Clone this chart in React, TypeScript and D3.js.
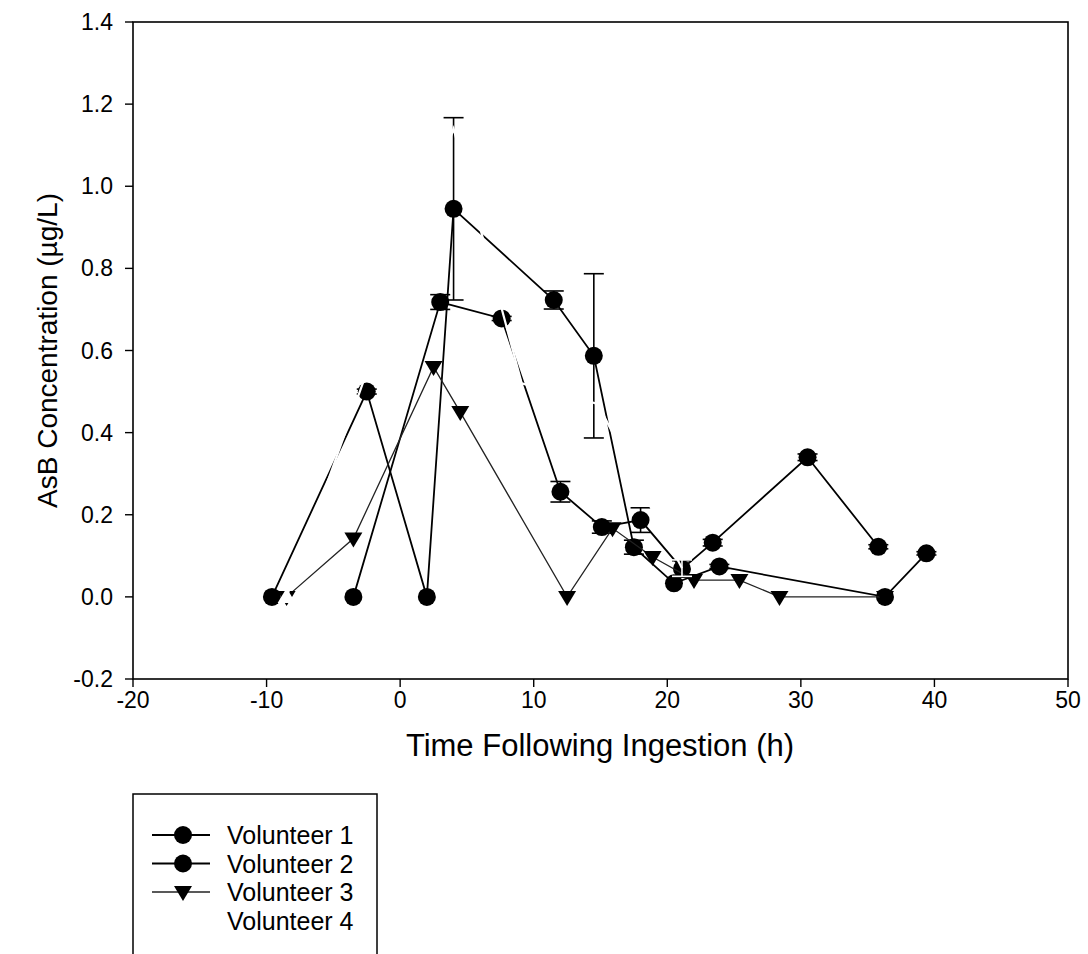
import React from "react";
import * as d3 from "d3";

// ---- data ----
const vol1Time = [-9.6, -2.5, 2.0, 4.0, 11.5, 14.5, 17.5, 20.5, 23.9, 36.3, 39.4];
const vol1Conc = [0, 0.5, 0, 0.945, 0.723, 0.587, 0.121, 0.033, 0.074, 0, 0.106];
const vol1Err = [0, 0.006, 0, 0.222, 0.022, 0.2, 0.017, 0, 0.005, 0, 0.004];

const vol2Time = [-3.5, 3.0, 7.6, 12.0, 15.1, 18.0, 21.1, 23.4, 30.5, 35.8];
const vol2Conc = [0, 0.718, 0.678, 0.256, 0.17, 0.187, 0.068, 0.132, 0.34, 0.122];
const vol2Err = [0, 0.018, 0.005, 0.025, 0.015, 0.03, 0.02, 0.008, 0.008, 0.005];

const vol3Time = [-8.5, -3.5, 2.5, 4.5, 12.5, 15.9, 18.9, 22.0, 25.4, 28.4, 36.3];
const vol3Conc = [0, 0.142, 0.56, 0.45, 0, 0.167, 0.097, 0.041, 0.041, 0, 0];
const vol3Err = [0, 0, 0, 0, 0, 0, 0, 0, 0, 0, 0];

const vol4Time = [-8.5, 4.0, 9.1, 14.8, 21.1];
const vol4Conc = [0, 1.14, 0.52, 0.47, 0.07];
const vol4Err = [0, 0, 0, 0, 0.02];

const xTicks = [-20, -10, 0, 10, 20, 30, 40, 50];
const yTicks = [-0.2, 0, 0.2, 0.4, 0.6, 0.8, 1.0, 1.2, 1.4];

const seriesNames = ["Volunteer 1", "Volunteer 2", "Volunteer 3", "Volunteer 4"];

type Series = {
  name: string;
  t: number[];
  v: number[];
  e: number[];
  marker: "circle" | "triDown" | "triUp";
  color: string;
  fill: string;
  width: number;
  markerCount: number;
};

const series: Series[] = [
  { name: seriesNames[0], t: vol1Time, v: vol1Conc, e: vol1Err, marker: "circle", color: "#000", fill: "#000", width: 1.8, markerCount: vol1Time.length },
  { name: seriesNames[1], t: vol2Time, v: vol2Conc, e: vol2Err, marker: "circle", color: "#000", fill: "#000", width: 1.8, markerCount: vol2Time.length },
  { name: seriesNames[2], t: vol3Time, v: vol3Conc, e: vol3Err, marker: "triDown", color: "#222", fill: "#000", width: 1.3, markerCount: vol3Time.length },
  { name: seriesNames[3], t: vol4Time, v: vol4Conc, e: vol4Err, marker: "triUp", color: "#fff", fill: "#fff", width: 2.2, markerCount: 1 },
];

const W = 1088;
const H = 954;
const left = 133;
const right = 1068;
const top = 22;
const bottom = 679;

const font = "'Liberation Sans', Arial, Helvetica, sans-serif";

function Marker({ type, x, y, fill }: { type: string; x: number; y: number; fill: string }) {
  if (type === "circle") return <circle cx={x} cy={y} r={9} fill={fill} />;
  if (type === "triDown")
    return <path d={`M${x - 9},${y - 6} L${x + 9},${y - 6} L${x},${y + 9} Z`} fill={fill} />;
  return <path d={`M${x - 9},${y + 6} L${x + 9},${y + 6} L${x},${y - 9} Z`} fill={fill} />;
}

export default function App() {
  const x = d3.scaleLinear().domain([-20, 50]).range([left, right]);
  const y = d3.scaleLinear().domain([-0.2, 1.4]).range([bottom, top]);
  const line = d3
    .line<[number, number]>()
    .x((d) => x(d[0]))
    .y((d) => y(d[1]));

  const legendRows = [835, 863.5, 892, 920.5];

  return (
    <svg
      width={W}
      height={H}
      style={{ position: "absolute", left: 0, top: 0, background: "#fff" }}
      fontFamily={font}
    >
      <rect x={0} y={0} width={W} height={H} fill="#fff" />
      {/* series */}
      {series.map((s, si) => {
        const pts = s.t.map((t, i) => [t, s.v[i]] as [number, number]);
        return (
          <g key={si}>
            <path d={line(pts) || ""} fill="none" stroke={s.color} strokeWidth={s.width} />
            {pts.map((p, i) =>
              s.e[i] > 0 ? (
                <g key={"e" + i} stroke={s.color} strokeWidth={1.6}>
                  <line x1={x(p[0])} x2={x(p[0])} y1={y(p[1] - s.e[i])} y2={y(p[1] + s.e[i])} />
                  <line x1={x(p[0]) - 10} x2={x(p[0]) + 10} y1={y(p[1] + s.e[i])} y2={y(p[1] + s.e[i])} />
                  <line x1={x(p[0]) - 10} x2={x(p[0]) + 10} y1={y(p[1] - s.e[i])} y2={y(p[1] - s.e[i])} />
                </g>
              ) : null
            )}
            {pts.slice(0, s.markerCount).map((p, i) => (
              <Marker key={"m" + i} type={s.marker} x={x(p[0])} y={y(p[1])} fill={s.fill} />
            ))}
          </g>
        );
      })}

      {/* frame */}
      <rect x={left} y={top} width={right - left} height={bottom - top} fill="none" stroke="#000" strokeWidth={1.6} />

      {/* y axis */}
      {yTicks.map((t) => (
        <g key={"y" + t}>
          <line x1={left - 8} x2={left} y1={y(t)} y2={y(t)} stroke="#000" strokeWidth={1.4} />
          <text x={left - 20} y={y(t)} textAnchor="end" dominantBaseline="central" fontSize={23} fill="#000">
            {t.toFixed(1)}
          </text>
        </g>
      ))}
      {/* x axis */}
      {xTicks.map((t) => (
        <g key={"x" + t}>
          <line x1={x(t)} x2={x(t)} y1={bottom} y2={bottom + 8} stroke="#000" strokeWidth={1.4} />
          <text x={x(t)} y={bottom + 21} textAnchor="middle" dominantBaseline="central" fontSize={23} fill="#000">
            {t}
          </text>
        </g>
      ))}

      <text x={600} y={745} textAnchor="middle" dominantBaseline="central" fontSize={31} fill="#000">
        Time Following Ingestion (h)
      </text>
      <text
        transform={`translate(47,${(top + bottom) / 2}) rotate(-90)`}
        textAnchor="middle"
        dominantBaseline="central"
        fontSize={28}
        fill="#000"
      >
        AsB Concentration (µg/L)
      </text>

      {/* legend */}
      <rect x={133} y={794} width={244} height={200} fill="#fff" stroke="#000" strokeWidth={1.5} />
      {series.map((s, i) => (
        <g key={"l" + i}>
          <line x1={152} x2={210} y1={legendRows[i]} y2={legendRows[i]} stroke={s.color} strokeWidth={s.width} />
          <Marker type={s.marker} x={183} y={legendRows[i]} fill={s.fill} />
          <text x={227} y={legendRows[i]} dominantBaseline="central" fontSize={25} fill="#000">
            {s.name}
          </text>
        </g>
      ))}
    </svg>
  );
}
